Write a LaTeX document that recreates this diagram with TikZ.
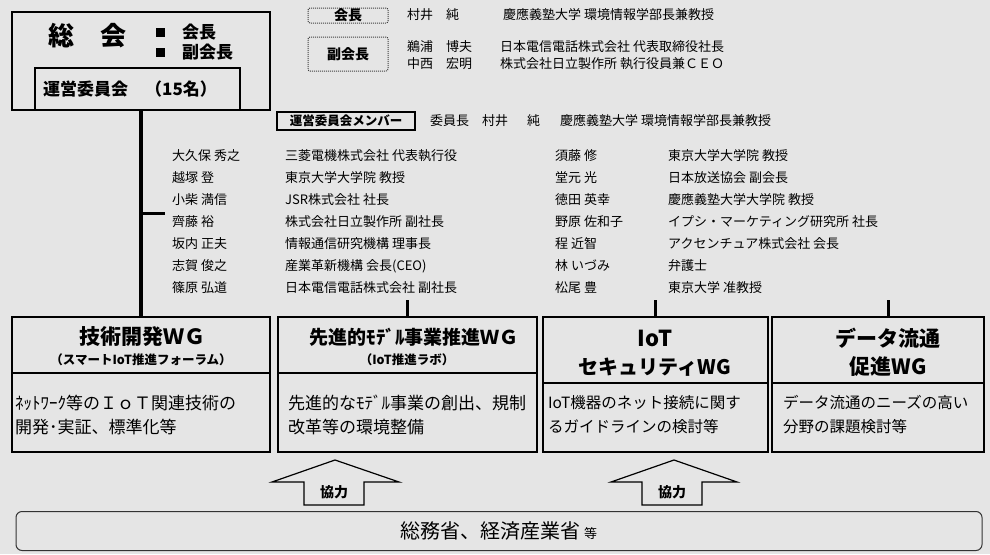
\documentclass[tikz,border=0pt]{standalone}
\usepackage{fontspec}
\setmainfont{Noto Sans CJK JP}
\usepackage{tikz}

\begin{document}
\begin{tikzpicture}[x=1pt,y=-1pt,
  txt/.style={anchor=west,inner sep=0pt,font=\fontsize{13}{15}\selectfont},
  frame/.style={draw,line width=2.5pt,inner sep=0pt},
  title/.style={inner sep=0pt,font=\bfseries},
  body/.style={anchor=west,inner sep=0pt,align=left},
  tag/.style={draw=black!75,densely dotted,line width=1pt,rounded corners=2pt,inner sep=0pt,font=\fontsize{14}{16}\selectfont\bfseries},
  link/.style={line width=3pt},
  coop/.style={draw,line width=1.2pt,fill=black!10,line join=miter}]
\fill[black!10] (0,0) rectangle (990,554);
\useasboundingbox (0,0) rectangle (990,554);
\node[frame,minimum width=258pt,minimum height=98pt] (soukai) at (141,61) {};
\node[frame,line width=2pt,minimum width=205pt,minimum height=42pt] (unei) at (137.5,89) {};
\node[title,font=\fontsize{26}{28}\selectfont\bfseries] (soukaiTitle) at (87,36) {総　会};
\node[fill,minimum size=9pt,inner sep=0pt] (sqA) at (160,32) {};
\node[fill,minimum size=9pt,inner sep=0pt] (sqB) at (160,52) {};
\node[txt,font=\fontsize{17}{19}\selectfont\bfseries] (kaicho) at (182,32) {会長};
\node[txt,font=\fontsize{17}{19}\selectfont\bfseries] (fukuKaicho) at (182,52) {副会長};
\node[txt,font=\fontsize{17}{19}\selectfont\bfseries] (uneiTitle) at (43,89) {運営委員会　（15名）};
\node[tag,minimum width=80pt,minimum height=15pt] (tagKaicho) at (348,15.5) {会長};
\node[tag,minimum width=80pt,minimum height=34pt] (tagFuku) at (348,54) {副会長};
\node[txt] (kaichoName) at (407,15) {村井　純};
\node[txt] (kaichoAff) at (503,15) {慶應義塾大学 環境情報学部長兼教授};
\node[txt] (fukuNameA) at (407,47) {鵜浦　博夫};
\node[txt] (fukuAffA) at (500,47) {日本電信電話株式会社 代表取締役社長};
\node[txt] (fukuNameB) at (407,64) {中西　宏明};
\node[txt] (fukuAffB) at (500,64) {株式会社日立製作所 執行役員兼ＣＥＯ};
\node[frame,line width=2pt,minimum width=138pt,minimum height=18pt,font=\fontsize{12.5}{14}\selectfont\bfseries] (memberTag) at (346,121) {運営委員会メンバー};
\node[txt] (chairRole) at (430,121) {委員長};
\node[txt] (chairName) at (482,121) {村井};
\node[txt] (chairNameB) at (527,121) {純};
\node[txt] (chairAff) at (560,121) {慶應義塾大学 環境情報学部長兼教授};
\node[txt] (mA) at (172,156) {大久保 秀之};
\node[txt] (mAaff) at (285,156) {三菱電機株式会社 代表執行役};
\node[txt] (mB) at (172,178) {越塚 登};
\node[txt] (mBaff) at (285,178) {東京大学大学院 教授};
\node[txt] (mC) at (172,200) {小柴 満信};
\node[txt] (mCaff) at (285,200) {JSR株式会社 社長};
\node[txt] (mD) at (172,222) {齊藤 裕};
\node[txt] (mDaff) at (285,222) {株式会社日立製作所 副社長};
\node[txt] (mE) at (172,244) {坂内 正夫};
\node[txt] (mEaff) at (285,244) {情報通信研究機構 理事長};
\node[txt] (mF) at (172,266) {志賀 俊之};
\node[txt] (mFaff) at (285,266) {産業革新機構 会長(CEO)};
\node[txt] (mG) at (172,288) {篠原 弘道};
\node[txt] (mGaff) at (285,288) {日本電信電話株式会社 副社長};
\node[txt] (mH) at (555,156) {須藤 修};
\node[txt] (mHaff) at (668,156) {東京大学大学院 教授};
\node[txt] (mI) at (555,178) {堂元 光};
\node[txt] (mIaff) at (668,178) {日本放送協会 副会長};
\node[txt] (mJ) at (555,200) {徳田 英幸};
\node[txt] (mJaff) at (668,200) {慶應義塾大学大学院 教授};
\node[txt] (mK) at (555,222) {野原 佐和子};
\node[txt] (mKaff) at (668,222) {イプシ・マーケティング研究所 社長};
\node[txt] (mL) at (555,244) {程 近智};
\node[txt] (mLaff) at (668,244) {アクセンチュア株式会社 会長};
\node[txt] (mM) at (555,266) {林 いづみ};
\node[txt] (mMaff) at (668,266) {弁護士};
\node[txt] (mN) at (555,288) {松尾 豊};
\node[txt] (mNaff) at (668,288) {東京大学 准教授};
\node[frame,minimum width=258pt,minimum height=56pt] (wgTechHead) at (141,345) {};
\node[frame,minimum width=258pt,minimum height=79pt] (wgTechBody) at (141,412.5) {};
\node[frame,minimum width=259pt,minimum height=56pt] (wgModelHead) at (407.5,345) {};
\node[frame,minimum width=259pt,minimum height=79pt] (wgModelBody) at (407.5,412.5) {};
\node[frame,minimum width=225pt,minimum height=66pt] (wgSecHead) at (655.5,350) {};
\node[frame,minimum width=225pt,minimum height=69pt] (wgSecBody) at (655.5,417.5) {};
\node[frame,minimum width=212pt,minimum height=66pt] (wgDataHead) at (878,350) {};
\node[frame,minimum width=212pt,minimum height=69pt] (wgDataBody) at (878,417.5) {};
\node[title,font=\fontsize{21}{24}\selectfont\bfseries] (wgTechTitle) at (142,337) {技術開発ＷＧ};
\node[title,font=\fontsize{12.5}{14}\selectfont\bfseries] (wgTechSub) at (141,360) {（スマートIoT推進フォーラム）};
\node[title,font=\fontsize{19}{22}\selectfont\bfseries] (wgModelTitle) at (414,337) {先進的ﾓﾃﾞﾙ事業推進ＷＧ};
\node[title,font=\fontsize{12.5}{14}\selectfont\bfseries] (wgModelSub) at (407,360) {（IoT推進ラボ）};
\node[title,font=\fontsize{22}{24}\selectfont\bfseries] (wgSecTitle) at (655,338) {IoT};
\node[title,font=\fontsize{20}{22}\selectfont\bfseries] (wgSecTitleB) at (655,367) {セキュリティWG};
\node[title,font=\fontsize{21}{24}\selectfont\bfseries] (wgDataTitle) at (888,338) {データ流通};
\node[title,font=\fontsize{21}{24}\selectfont\bfseries] (wgDataTitleB) at (888,367) {促進WG};
\node[body,font=\fontsize{17}{24}\selectfont] (wgTechText) at (15,415) {ﾈｯﾄﾜｰｸ等のＩｏＴ関連技術の\\開発･実証、標準化等};
\node[body,font=\fontsize{17}{24}\selectfont] (wgModelText) at (288,415) {先進的なﾓﾃﾞﾙ事業の創出、規制\\改革等の環境整備};
\node[body,font=\fontsize{15.5}{24}\selectfont] (wgSecText) at (548,415) {IoT機器のネット接続に関す\\るガイドラインの検討等};
\node[body,font=\fontsize{15.5}{24}\selectfont] (wgDataText) at (783,415) {データ流通のニーズの高い\\分野の課題検討等};
\coordinate (branchEnd) at (165,213);
\coordinate (tickB) at (407.5,300);
\coordinate (tickC) at (655.5,300);
\coordinate (tickD) at (888,300);
\draw[link,line width=4pt] (soukai.south) -- (wgTechHead.north);
\draw[link] (branchEnd -| soukai.south) -- (branchEnd);
\draw[link] (tickB) -- (tickB |- wgModelHead.north);
\draw[link] (tickC) -- (tickC |- wgSecHead.north);
\draw[link] (tickD) -- (tickD |- wgDataHead.north);
\draw[coop] (304,505) -- (304,482) -- (272,482) -- (335,460) -- (399,482) -- (364,482) -- (364,505) -- cycle;
\node[title,font=\fontsize{14}{16}\selectfont\bfseries] (coopA) at (334,492) {協力};
\draw[coop] (642,505) -- (642,482) -- (611,482) -- (674,460) -- (737,482) -- (702,482) -- (702,505) -- cycle;
\node[title,font=\fontsize{14}{16}\selectfont\bfseries] (coopB) at (672,492) {協力};
\node[draw=black!80,line width=1pt,rounded corners=6pt,minimum width=966pt,minimum height=39pt,inner sep=0pt,font=\fontsize{20}{24}\selectfont] (gov) at (499,531) {総務省、経済産業省\,{\fontsize{13}{15}\selectfont 等}};
\end{tikzpicture}
\end{document}
